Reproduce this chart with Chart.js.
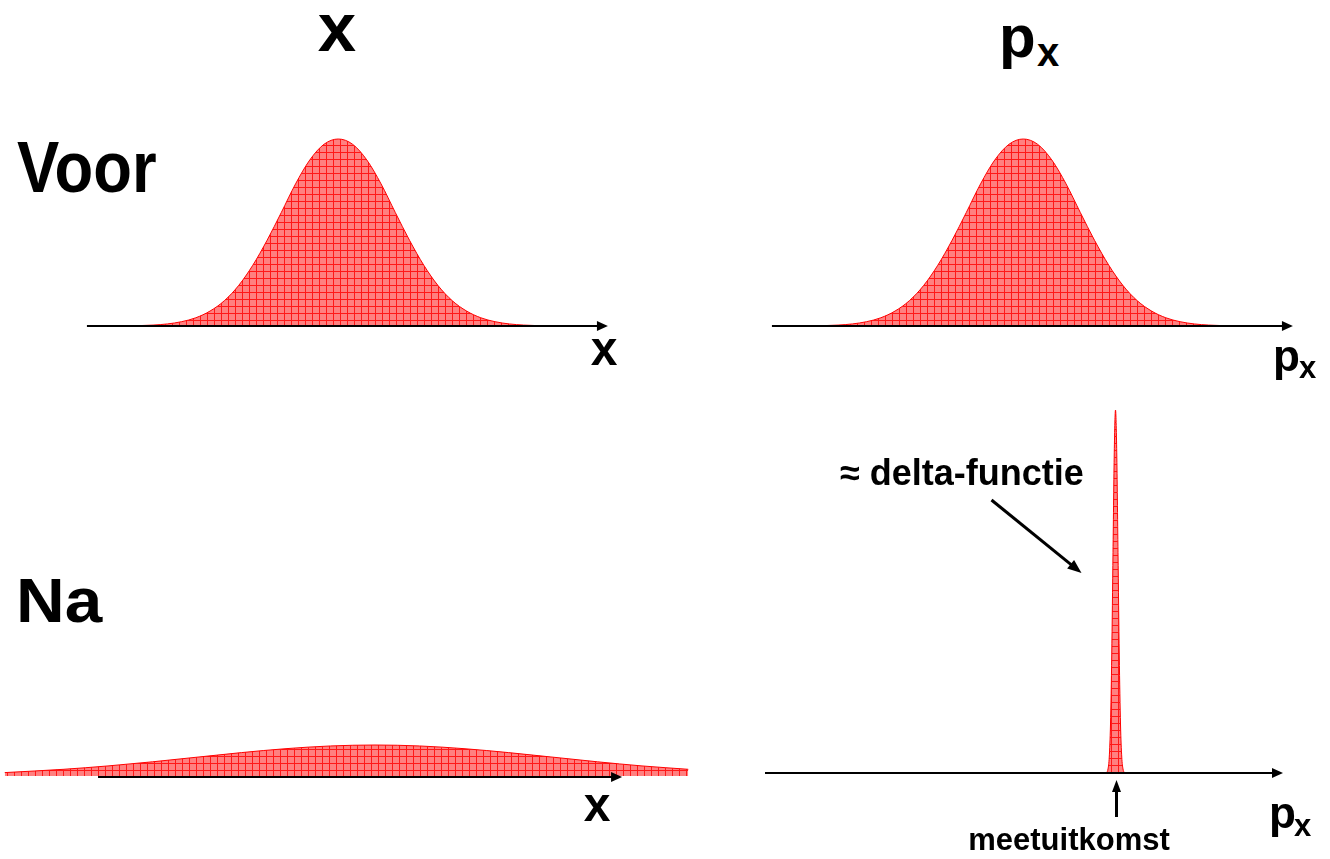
<!DOCTYPE html>
<html>
<head>
<meta charset="utf-8">
<script src="https://cdn.jsdelivr.net/npm/chart.js@4.4.1/dist/chart.umd.min.js"></script>
<style>
  html, body { margin: 0; padding: 0; background: #fff; }
  body { width: 1330px; height: 859px; position: relative; overflow: hidden; }
  canvas { position: absolute; }
  .t { position: absolute; font-family: "Liberation Sans", Arial, sans-serif; font-weight: bold;
       line-height: 1; white-space: nowrap; color: #000; transform-origin: 0 0; }
  .c { text-align: center; }
</style>
</head>
<body>
<canvas id="voorX"></canvas>
<canvas id="voorP"></canvas>
<canvas id="naX"></canvas>
<canvas id="naP"></canvas>

<div class="t c" style="left:287px;width:100px;top:-7px;font-size:69px">x</div>
<div class="t" style="left:999px;top:7px;font-size:60px">p</div>
<div class="t" style="left:1037px;top:32px;font-size:40px">x</div>

<div class="t" style="left:17px;top:131px;font-size:72px;transform:scaleX(0.88)">Voor</div>
<div class="t" style="left:16px;top:569px;font-size:63px;transform:scaleX(1.07)">Na</div>

<div class="t c" style="left:554px;width:100px;top:325px;font-size:48px">x</div>
<div class="t" style="left:1273px;top:334px;font-size:44px">p</div>
<div class="t" style="left:1299px;top:352px;font-size:31px">x</div>

<div class="t c" style="left:547px;width:100px;top:781px;font-size:48px">x</div>
<div class="t" style="left:1269px;top:791px;font-size:44px">p</div>
<div class="t" style="left:1294px;top:810px;font-size:31px">x</div>

<div class="t" style="left:840px;top:455px;font-size:36px">≈ delta-functie</div>
<div class="t c" style="left:919px;width:300px;top:824px;font-size:31px">meetuitkomst</div>

<script>
// Positions are in units of each distribution's width; heights relative to its peak.
const voorXPos = [-4.25, -4, -3.75, -3.5, -3.25, -3, -2.75, -2.5, -2.25, -2, -1.75, -1.5, -1.25, -1, -0.75, -0.5, -0.25,
                  0, 0.25, 0.5, 0.75, 1, 1.25, 1.5, 1.75, 2, 2.25, 2.5, 2.75, 3, 3.25, 3.5, 3.75, 4, 4.25];
const voorXVal = [0, 0, 0.001, 0.002, 0.005, 0.011, 0.023, 0.044, 0.080, 0.135, 0.216, 0.325, 0.458, 0.607, 0.760, 0.888, 0.972,
                  1, 0.972, 0.888, 0.760, 0.607, 0.458, 0.325, 0.216, 0.135, 0.080, 0.044, 0.023, 0.011, 0.005, 0.002, 0.001, 0, 0];

const voorPPos = [-4.25, -4, -3.75, -3.5, -3.25, -3, -2.75, -2.5, -2.25, -2, -1.75, -1.5, -1.25, -1, -0.75, -0.5, -0.25,
                  0, 0.25, 0.5, 0.75, 1, 1.25, 1.5, 1.75, 2, 2.25, 2.5, 2.75, 3, 3.25, 3.5, 3.75, 4, 4.25];
const voorPVal = [0, 0, 0.001, 0.002, 0.005, 0.011, 0.023, 0.044, 0.080, 0.135, 0.216, 0.325, 0.458, 0.607, 0.760, 0.888, 0.972,
                  1, 0.972, 0.888, 0.760, 0.607, 0.458, 0.325, 0.216, 0.135, 0.080, 0.044, 0.023, 0.011, 0.005, 0.002, 0.001, 0, 0];

// After the measurement: x spreads out, p_x collapses to a narrow spike
const naXPos = [-2.08, -1.75, -1.5, -1.25, -1, -0.75, -0.5, -0.25, 0, 0.25, 0.5, 0.75, 1, 1.25, 1.5, 1.76];
const naXVal = [0.11, 0.216, 0.325, 0.458, 0.607, 0.755, 0.882, 0.969, 1, 0.969, 0.882, 0.755, 0.607, 0.458, 0.325, 0.216];

const naPPos = [-4, -3.5, -3, -2.5, -2, -1.5, -1, -0.5, 0, 0.5, 1, 1.5, 2, 2.5, 3, 3.5, 4];
const naPVal = [0, 0.002, 0.011, 0.044, 0.135, 0.325, 0.607, 0.882, 1, 0.882, 0.607, 0.325, 0.135, 0.044, 0.011, 0.002, 0];

// Horizontal axis extents, in the same units as the positions
const voorXAxis = [-4.41, 4.73];
const voorPAxis = [-4.41, 4.73];
const naXAxis = [-1.556, 1.388];
const naPAxis = [-140.2, 67];

// Panel placement on the page: canvas box, centre/baseline pixel, pixels per unit
const panels = [
  { id: 'voorX', pos: voorXPos, val: voorXVal, axis: voorXAxis, box: [60, 110, 580, 240], cx: 338.3, by: 326, ux: 57, uy: 187, axisDy: 0 },
  { id: 'voorP', pos: voorPPos, val: voorPVal, axis: voorPAxis, box: [745, 110, 580, 240], cx: 1023.3, by: 326, ux: 57, uy: 187, axisDy: 0 },
  { id: 'naX', pos: naXPos, val: naXVal, axis: naXAxis, box: [0, 700, 700, 100], cx: 375, by: 776, ux: 178, uy: 31, axisDy: 1 },
  { id: 'naP', pos: naPPos, val: naPVal, axis: naPAxis, box: [740, 380, 590, 479], cx: 1115.5, by: 773, ux: 2.5, uy: 363, axisDy: 0, marks: true }
];

function gridPattern() {
  const c = document.createElement('canvas');
  c.width = 7; c.height = 7;
  const g = c.getContext('2d');
  g.fillStyle = 'rgb(255,128,128)';
  g.fillRect(0, 0, 7, 7);
  g.fillStyle = 'rgb(255,25,25)';
  g.fillRect(0, 0, 7, 1);
  g.fillRect(0, 0, 1, 7);
  return g.createPattern(c, 'repeat');
}

function arrow(ctx, x1, y1, x2, y2, lw, headLen, headW) {
  const a = Math.atan2(y2 - y1, x2 - x1);
  const bx = x2 - Math.cos(a) * headLen, by = y2 - Math.sin(a) * headLen;
  ctx.save();
  ctx.strokeStyle = '#000';
  ctx.fillStyle = '#000';
  ctx.lineWidth = lw;
  ctx.beginPath();
  ctx.moveTo(x1, y1);
  ctx.lineTo(bx + Math.cos(a) * 1, by + Math.sin(a) * 1);
  ctx.stroke();
  ctx.beginPath();
  ctx.moveTo(x2, y2);
  ctx.lineTo(bx + Math.sin(a) * headW / 2, by - Math.cos(a) * headW / 2);
  ctx.lineTo(bx - Math.sin(a) * headW / 2, by + Math.cos(a) * headW / 2);
  ctx.closePath();
  ctx.fill();
  ctx.restore();
}

function axisPlugin(p) {
  return {
    id: 'axisArrow',
    afterDatasetsDraw(chart) {
      const ctx = chart.ctx;
      const xs = chart.scales.x, ys = chart.scales.y;
      const y0 = ys.getPixelForValue(0) + p.axisDy;
      arrow(ctx, xs.getPixelForValue(p.axis[0]), y0, xs.getPixelForValue(p.axis[1]), y0, 2, 11, 10);
      if (p.marks) {
        const sx = xs.getPixelForValue(0) + 1;
        // measured value pointer under the spike
        arrow(ctx, sx, y0 + 44, sx, y0 + 7, 3, 12, 9);
        // pointer from the label to the spike
        arrow(ctx, sx - 125, y0 - 273, sx - 35, y0 - 200, 3, 14, 11);
      }
    }
  };
}

const pattern = gridPattern();

panels.forEach(p => {
  const cv = document.getElementById(p.id);
  const [left, top, w, h] = p.box;
  cv.width = w; cv.height = h;
  cv.style.left = left + 'px'; cv.style.top = top + 'px';
  cv.style.width = w + 'px'; cv.style.height = h + 'px';
  const xMin = (left - p.cx) / p.ux, xMax = (left + w - p.cx) / p.ux;
  const yMax = (p.by - top) / p.uy, yMin = -(top + h - p.by) / p.uy;
  new Chart(cv, {
    type: 'line',
    data: {
      datasets: [{
        data: p.pos.map((x, i) => ({ x: x, y: p.val[i] })),
        borderColor: '#ff0000',
        borderWidth: 1,
        backgroundColor: pattern,
        fill: 'origin',
        pointRadius: 0,
        cubicInterpolationMode: 'monotone'
      }]
    },
    options: {
      responsive: false,
      animation: false,
      events: [],
      layout: { padding: 0 },
      scales: {
        x: { type: 'linear', display: false, min: xMin, max: xMax },
        y: { display: false, min: yMin, max: yMax }
      },
      plugins: { legend: { display: false }, tooltip: { enabled: false } }
    },
    plugins: [axisPlugin(p)]
  });
});
</script>
</body>
</html>
